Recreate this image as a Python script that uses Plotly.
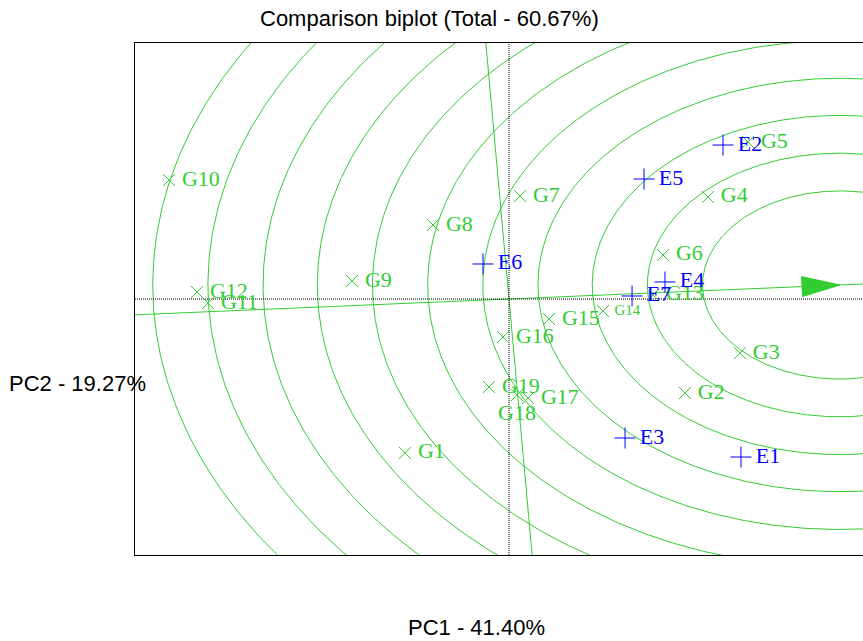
import numpy as np
import plotly.graph_objects as go

# ---------------- data ----------------
gen_names = ["G1", "G2", "G3", "G4", "G5", "G6", "G7", "G8", "G9", "G10",
             "G11", "G12", "G13", "G14", "G15", "G16", "G17", "G18", "G19"]
gen_x = [-1.112, 1.882, 2.470, 2.128, 2.556, 1.647, 0.118, -0.813, -1.679, -3.636,
         -3.219, -3.337, 1.540, 1.005, 0.428, -0.064, 0.203, 0.086, -0.214]
gen_y = [-2.406, -1.469, -0.844, 1.594, 2.453, 0.688, 1.609, 1.156, 0.281, 1.859,
         -0.063, 0.109, 0.063, -0.188, -0.313, -0.594, -1.547, -1.500, -1.375]

env_names = ["E1", "E2", "E3", "E4", "E5", "E6", "E7"]
env_x = [2.481, 2.289, 1.241, 1.668, 1.444, -0.278, 1.316]
env_y = [-2.469, 2.406, -2.172, 0.266, 1.875, 0.547, 0.047]

ideal_x, ideal_y = 3.540, 0.219          # average-environment / ideal point
ring_radii = [1.47, 2.06, 2.65, 3.23, 3.82, 4.41, 5.00, 5.59, 6.17, 6.76, 7.35]

x_range = [-4.0, 3.786]
y_range = [-4.0, 4.0]

title_text = "Comparison biplot (Total - 60.67%)"
pc1_label = "PC1 - 41.40%"
pc2_label = "PC2 - 19.27%"

# ---------------- styling / layout constants ----------------
W, H = 863, 641
ML, MR, MT, MB = 135, 0, 43, 86
plot_w, plot_h = W - ML - MR, H - MT - MB
ppx = plot_w / (x_range[1] - x_range[0])
ppy = plot_h / (y_range[1] - y_range[0])

GREEN = "#33CC33"
BLUE = "#0000FF"

fig = go.Figure()

# concentric rings around the ideal point
theta = np.linspace(0, 2 * np.pi, 721)
for r in ring_radii:
    fig.add_trace(go.Scatter(x=ideal_x + r * np.cos(theta), y=ideal_y + r * np.sin(theta),
                             mode="lines", line=dict(color=GREEN, width=1),
                             hoverinfo="skip", showlegend=False))

# average environment axis (through origin and the ideal point) and its perpendicular
t = np.array([-3.0, 3.0])
fig.add_trace(go.Scatter(x=t * ideal_x, y=t * ideal_y, mode="lines",
                         line=dict(color=GREEN, width=1), hoverinfo="skip", showlegend=False))
fig.add_trace(go.Scatter(x=-t * ideal_y, y=t * ideal_x, mode="lines",
                         line=dict(color=GREEN, width=1), hoverinfo="skip", showlegend=False))

# dotted zero axes
fig.add_trace(go.Scatter(x=[x_range[0], x_range[1]], y=[0, 0], mode="lines",
                         line=dict(color="black", width=1, dash="1px,1px"),
                         hoverinfo="skip", showlegend=False))
fig.add_trace(go.Scatter(x=[0, 0], y=[y_range[0], y_range[1]], mode="lines",
                         line=dict(color="black", width=1, dash="1px,1px"),
                         hoverinfo="skip", showlegend=False))

# arrow head at the ideal point (built in pixel space, converted to data units)
ux, uy = ideal_x * ppx, ideal_y * ppy
n = np.hypot(ux, uy)
ux, uy = ux / n, uy / n
px_len, px_half = 38.0, 10.0
bx, by = -px_len * ux, -px_len * uy
ax_ = [ideal_x, ideal_x + (bx - px_half * uy) / ppx, ideal_x + (bx + px_half * uy) / ppx, ideal_x]
ay_ = [ideal_y, ideal_y + (by + px_half * ux) / ppy, ideal_y + (by - px_half * ux) / ppy, ideal_y]
fig.add_trace(go.Scatter(x=ax_, y=ay_, mode="lines", fill="toself", fillcolor=GREEN,
                         line=dict(color=GREEN, width=1), hoverinfo="skip", showlegend=False))

# genotypes
gen_sizes = [22] * len(gen_names)
gen_pos = ["middle right"] * len(gen_names)
gen_sizes[gen_names.index("G14")] = 15
gen_pos[gen_names.index("G18")] = "bottom center"
gen_tpl = ["\u2009%{text}"] * len(gen_names)
gen_tpl[gen_names.index("G18")] = "%{text}"
fig.add_trace(go.Scatter(x=gen_x, y=gen_y, mode="markers+text", text=gen_names,
                         texttemplate=gen_tpl, textposition=gen_pos,
                         textfont=dict(family="Liberation Serif", size=gen_sizes, color=GREEN),
                         marker=dict(symbol="x-thin", size=12, line=dict(color=GREEN, width=1)),
                         showlegend=False))

# environments
fig.add_trace(go.Scatter(x=env_x, y=env_y, mode="markers+text", text=env_names,
                         texttemplate="\u2009%{text}", textposition="middle right",
                         textfont=dict(family="Liberation Serif", size=22, color=BLUE),
                         marker=dict(symbol="cross-thin", size=15, line=dict(color=BLUE, width=1)),
                         showlegend=False))

def px2paper_x(px):
    return (px - ML) / plot_w

def py2paper_y(py):
    return (MT + plot_h - py) / plot_h

sans = dict(family="Liberation Sans", size=22, color="black")
fig.add_annotation(text=title_text, x=px2paper_x(429), y=py2paper_y(18), xref="paper", yref="paper",
                   xanchor="center", yanchor="middle", showarrow=False, font=sans)
fig.add_annotation(text=pc1_label, x=px2paper_x(476), y=py2paper_y(627), xref="paper", yref="paper",
                   xanchor="center", yanchor="middle", showarrow=False, font=sans)
fig.add_annotation(text=pc2_label, x=px2paper_x(7), y=py2paper_y(383), xref="paper", yref="paper",
                   xanchor="left", yanchor="middle", showarrow=False, font=sans)

fig.update_layout(
    width=W, height=H,
    margin=dict(l=ML, r=MR, t=MT, b=MB, pad=0),
    paper_bgcolor="white", plot_bgcolor="white",
    showlegend=False,
    xaxis=dict(range=x_range, showgrid=False, zeroline=False, showticklabels=False, ticks="",
               showline=True, mirror=True, linecolor="black", linewidth=1, fixedrange=True),
    yaxis=dict(range=y_range, showgrid=False, zeroline=False, showticklabels=False, ticks="",
               showline=True, mirror=False, linecolor="black", linewidth=1, fixedrange=True),
)

fig.write_html("out.html", config={"displayModeBar": False},
               post_script="document.body.style.margin='0';document.body.style.overflow='hidden';")
